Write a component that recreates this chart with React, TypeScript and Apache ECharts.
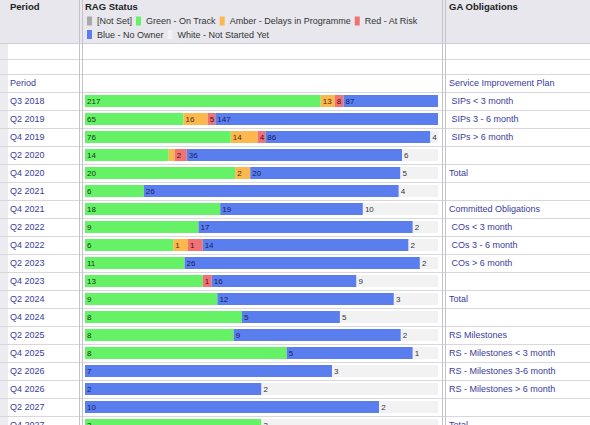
import React, { useEffect, useRef } from "react";
import * as echarts from "echarts";

const FONT = '"Liberation Sans", Arial, sans-serif';

// Table rows (first row is the "Period" caption row of the table)
const periods = [
  "Period", "Q3 2018", "Q2 2019", "Q4 2019", "Q2 2020", "Q4 2020", "Q2 2021",
  "Q4 2021", "Q2 2022", "Q4 2022", "Q2 2023", "Q4 2023", "Q2 2024", "Q4 2024",
  "Q2 2025", "Q4 2025", "Q2 2026", "Q4 2026", "Q2 2027", "Q4 2027",
];

const gaLabels = [
  "Service Improvement Plan", "\u00a0SIPs < 3 month", "\u00a0SIPs 3 - 6 month", "\u00a0SIPs > 6 month", "",
  "Total", "", "Committed Obligations", "\u00a0COs < 3 month", "\u00a0COs 3 - 6 month", "\u00a0COs > 6 month",
  "", "Total", "", "RS Milestones", "RS - Milestones < 3 month", "RS - Milestones 3-6 month",
  "RS - Milestones > 6 month", "", "Total",
];

// RAG counts per period (null for the caption row)
const notSet = [null, 0, 0, 0, 0, 0, 0, 0, 0, 0, 0, 0, 0, 0, 0, 0, 0, 0, 0, 0];
const green = [null, 217, 65, 76, 14, 20, 6, 18, 9, 6, 11, 13, 9, 8, 8, 8, 0, 0, 0, 3];
const amber = [null, 13, 16, 14, 1, 2, 0, 0, 0, 1, 0, 0, 0, 0, 0, 0, 0, 0, 0, 0];
const red = [null, 8, 5, 4, 2, 0, 0, 0, 0, 1, 0, 1, 0, 0, 0, 0, 0, 0, 0, 0];
const blue = [null, 87, 147, 86, 36, 20, 26, 19, 17, 14, 26, 16, 12, 5, 9, 5, 7, 2, 10, 0];
const white = [null, 0, 0, 4, 6, 5, 4, 10, 2, 2, 2, 9, 3, 5, 2, 1, 3, 2, 2, 3];

const legendRow1 = ["[Not Set]", "Green - On Track", "Amber - Delays in Programme", "Red - At Risk"];
const legendRow2 = ["Blue - No Owner", "White - Not Started Yet"];

const seriesDefs = [
  { name: "[Not Set]", values: notSet, color: "#a9a9a9", labelColor: "#222" },
  { name: "Green - On Track", values: green, color: "#66f266", labelColor: "#173517" },
  { name: "Amber - Delays in Programme", values: amber, color: "#fdb74f", labelColor: "#4a3000" },
  { name: "Red - At Risk", values: red, color: "#f07272", labelColor: "#4a1010" },
  { name: "Blue - No Owner", values: blue, color: "#5b7eee", labelColor: "#15205a" },
  { name: "White - Not Started Yet", values: white, color: "#f2f2f2", labelColor: "#333" },
];

const totals = periods.map((_, i) =>
  seriesDefs.reduce((s, d) => s + (d.values[i] == null ? 0 : (d.values[i] as number)), 0)
);

const ROW_TEXT = "#3b3b9c";
const LINE = "#d8d8dc";
const SEP = "#c4c4c8";
const CANVAS_H = 440;

function buildOption(): any {
  const series = seriesDefs.map((d) => ({
    name: d.name,
    type: "bar",
    stack: "rag",
    xAxisIndex: 0,
    yAxisIndex: 0,
    barWidth: 12,
    silent: true,
    itemStyle: { color: d.color },
    label: {
      show: true,
      position: "insideLeft",
      distance: 2,
      fontSize: 8,
      fontFamily: FONT,
      color: d.labelColor,
      formatter: (p: any) => {
        const raw = d.values[p.dataIndex] as number | null;
        const tot = totals[p.dataIndex];
        if (!raw || !tot) return "";
        return (raw / tot) * 100 >= 2 ? String(raw) : "";
      },
    },
    data: d.values.map((v, i) =>
      v == null ? "-" : totals[i] ? ((v as number) / totals[i]) * 100 : 0
    ),
  }));

  const headerText = (text: string, x: number) => ({
    type: "text",
    x,
    y: 6,
    z: 20,
    style: {
      text,
      fill: "#222",
      fontSize: 9.5,
      fontWeight: "bold",
      fontFamily: FONT,
      align: "left",
      verticalAlign: "middle",
    },
  });

  const vline = (x: number) => ({
    type: "line",
    z: 20,
    shape: { x1: x, y1: 0, x2: x, y2: CANVAS_H },
    style: { stroke: SEP, lineWidth: 1 },
  });
  const hline = (y: number, color: string) => ({
    type: "line",
    z: 20,
    shape: { x1: 0, y1: y, x2: 590, y2: y },
    style: { stroke: color, lineWidth: 1 },
  });

  const legendBase = {
    left: 87,
    padding: 0,
    itemWidth: 5,
    itemHeight: 9,
    itemGap: 4,
    icon: "rect",
    selectedMode: false,
    textStyle: { fontSize: 9, color: "#333", fontFamily: FONT },
  };

  return {
    animation: false,
    backgroundColor: "#ffffff",
    textStyle: { fontFamily: FONT },
    legend: [
      { ...legendBase, top: 16.5, data: legendRow1 },
      { ...legendBase, top: 30, data: legendRow2 },
    ],
    grid: [
      { left: 85, width: 353, top: 74, height: 360 },
      { left: 0, width: 590, top: 74, height: 360 },
    ],
    xAxis: [
      { gridIndex: 0, type: "value", min: 0, max: 100, show: false },
      { gridIndex: 1, type: "value", min: 0, max: 1, show: false },
    ],
    yAxis: [
      {
        gridIndex: 0,
        type: "category",
        data: periods,
        inverse: true,
        axisLine: { show: false },
        axisTick: { show: false },
        splitLine: { show: false },
        axisLabel: {
          interval: 0,
          align: "left",
          margin: 75,
          fontSize: 9,
          color: ROW_TEXT,
          fontFamily: FONT,
        },
      },
      {
        gridIndex: 0,
        type: "category",
        position: "right",
        data: periods,
        inverse: true,
        axisLine: { show: false },
        axisTick: { show: false },
        splitLine: { show: false },
        axisLabel: {
          interval: 0,
          align: "left",
          margin: 11,
          fontSize: 9,
          color: ROW_TEXT,
          fontFamily: FONT,
          formatter: (_v: string, i: number) => gaLabels[i],
        },
      },
      {
        gridIndex: 1,
        type: "category",
        data: periods,
        inverse: true,
        axisLine: { show: false },
        axisTick: { show: false },
        axisLabel: { show: false },
        splitLine: { show: true, interval: 0, lineStyle: { color: LINE, width: 1 } },
      },
    ],
    graphic: [
      { type: "rect", z: -10, shape: { x: 0, y: 0, width: 590, height: 43 }, style: { fill: "#e7e7ed" } },
      { type: "rect", z: -10, shape: { x: 0, y: 43, width: 8, height: CANVAS_H - 43 }, style: { fill: "#ececf0" } },
      hline(43.5, "#cfcfd6"),
      hline(59.5, LINE),
      vline(79.5),
      vline(82.5),
      vline(442.5),
      vline(445.5),
      headerText("Period", 10),
      headerText("RAG Status", 85),
      headerText("GA Obligations", 449),
    ],
    series,
  };
}

export default function App() {
  const ref = useRef<HTMLDivElement>(null);
  useEffect(() => {
    if (!ref.current) return;
    const chart = echarts.init(ref.current, null, { renderer: "svg" });
    chart.setOption(buildOption());
    return () => chart.dispose();
  }, []);
  return (
    <div
      style={{
        position: "fixed",
        left: 0,
        top: 0,
        width: 590,
        height: 425,
        overflow: "hidden",
        background: "#fff",
      }}
    >
      <div ref={ref} style={{ width: 590, height: CANVAS_H }} />
    </div>
  );
}
